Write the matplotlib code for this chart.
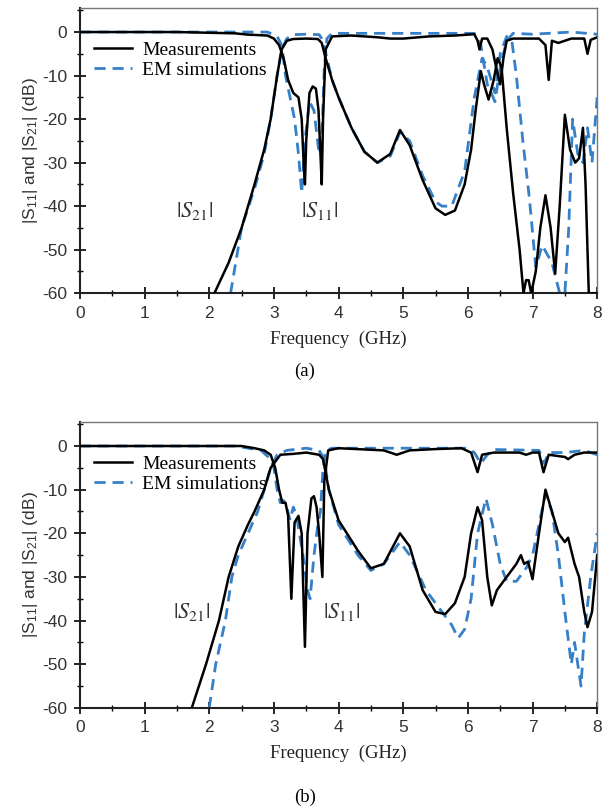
import matplotlib.pyplot as plt
import numpy as np
from matplotlib.ticker import MultipleLocator

plt.rcParams['mathtext.fontset'] = 'stix'
plt.rcParams['axes.unicode_minus'] = False

# ---- panel (a) ----
f_s11_meas_a = [0, 1.5, 2.4, 2.6, 2.9, 3.0, 3.08, 3.15, 3.22, 3.3, 3.38, 3.43, 3.46, 3.48, 3.5, 3.55, 3.6, 3.65,
                3.69, 3.72, 3.74, 3.76, 3.8, 3.9, 4.2, 4.6, 4.8, 5.0, 5.4, 5.8, 6.1, 6.15, 6.18, 6.22, 6.3, 6.38,
                6.45, 6.5, 6.55, 6.6, 6.7, 7.1, 7.2, 7.25, 7.3, 7.4, 7.5, 7.6, 7.8, 7.85, 7.9, 8.0]
s11_meas_a = [0, 0, -0.3, -0.6, -0.8, -1.5, -3, -6, -11, -14, -15, -20, -30, -35, -25, -14, -12.5, -13,
              -18, -28, -35, -20, -4, -1, -0.8, -1.2, -1.5, -1.5, -1, -0.8, -0.5, -2, -4, -1.5, -1.5, -4,
              -9, -12, -6, -2, -1.5, -1.5, -3, -11, -2, -2.5, -2, -1.5, -1.5, -5, -1.8, -1.2]

f_s21_meas_a = [2.08, 2.3, 2.5, 2.7, 2.85, 2.95, 3.05, 3.12, 3.2, 3.3, 3.5, 3.68, 3.74, 3.8, 3.9, 4.0, 4.2, 4.4,
                4.6, 4.8, 4.95, 5.1, 5.3, 5.5, 5.65, 5.8, 5.95, 6.05, 6.12, 6.2, 6.25, 6.32, 6.4, 6.46, 6.52,
                6.6, 6.7, 6.8, 6.86, 6.9, 6.94, 6.98, 7.05, 7.12, 7.2, 7.28, 7.35, 7.42, 7.5, 7.58, 7.66, 7.72,
                7.78, 7.82, 7.87, 8.0]
s21_meas_a = [-60, -53, -45, -35, -27, -20, -10, -4, -2, -1.6, -1.5, -1.6, -2.5, -6, -11, -15, -22, -27.5,
              -30, -28, -22.5, -26, -34, -40.5, -42, -41, -35, -27, -18, -9, -12, -15.5, -11, -6, -8,
              -22, -37, -50, -60, -57, -57, -60, -55, -45, -37.5, -45, -55.5, -40, -19, -27, -30, -29,
              -22, -35, -60, -60]

f_s11_sim_a = [0, 2.9, 3.05, 3.12, 3.18, 3.25, 3.32, 3.38, 3.43, 3.48, 3.55, 3.62, 3.7, 3.74, 3.78, 3.82,
               3.9, 5.0, 6.1, 6.2, 6.3, 6.42, 6.5, 6.6, 6.7, 7.0, 7.6, 8.0]
s11_sim_a = [0, 0, -1, -3, -10, -15, -20, -28, -37, -25, -16, -18, -28, -25, -8, -1.5,
             -0.3, -0.3, -0.3, -3, -12, -16, -8, -2, -0.3, -0.5, 0, -0.5]

f_s21_sim_a = [2.33, 2.5, 2.7, 2.85, 2.95, 3.05, 3.12, 3.2, 3.3, 3.5, 3.7, 3.76, 3.82, 3.9, 4.0, 4.2, 4.4, 4.6,
               4.8, 4.95, 5.1, 5.3, 5.5, 5.6, 5.75, 5.95, 6.1, 6.22, 6.3, 6.42, 6.5, 6.6, 6.68, 6.75, 6.85,
               6.95, 7.05, 7.15, 7.3, 7.42, 7.5, 7.56, 7.62, 7.7, 7.78, 7.85, 7.92, 8.0]
s21_sim_a = [-60, -45, -36, -28, -20, -10, -4, -1.5, -0.6, -0.5, -0.6, -2, -6, -11, -15, -22, -27.5, -30,
             -28.5, -23, -25, -33, -39, -40, -40, -32, -15, -6, -8, -14, -5, -1, -2, -10, -25,
             -38, -54, -49, -53, -60, -60, -45, -20, -28, -30, -22, -30, -15]

# ---- panel (b) ----
f_s11_meas_b = [0, 2.5, 2.7, 2.85, 2.95, 3.02, 3.08, 3.13, 3.18, 3.22, 3.27, 3.32, 3.38, 3.43, 3.48, 3.52,
                3.58, 3.62, 3.66, 3.7, 3.75, 3.78, 3.84, 4.0, 4.7, 4.9, 5.1, 5.5, 5.9, 6.05, 6.15, 6.22, 6.4,
                6.8, 6.9, 7.0, 7.1, 7.17, 7.25, 7.5, 7.55, 7.65, 7.8, 8.0]
s11_meas_b = [0, 0, -0.5, -1, -2, -5, -10, -13, -13, -16, -35, -17.5, -16, -20, -46, -20,
              -12, -11.5, -14, -20, -30, -8, -1, -0.5, -1, -2, -1, -0.7, -0.5, -1.5, -6, -2, -1.5,
              -1.5, -2, -1.5, -1.5, -6, -2, -2.5, -3, -2, -1.5, -1.5]

f_s21_meas_b = [1.73, 1.95, 2.15, 2.3, 2.45, 2.6, 2.7, 2.85, 2.95, 3.1, 3.3, 3.5, 3.7, 3.76, 3.85, 4.0, 4.3,
                4.5, 4.7, 4.95, 5.1, 5.3, 5.5, 5.65, 5.8, 5.95, 6.05, 6.15, 6.22, 6.3, 6.37, 6.45, 6.6,
                6.75, 6.82, 6.87, 6.93, 7.0, 7.1, 7.2, 7.3, 7.4, 7.5, 7.55, 7.65, 7.72, 7.8, 7.85, 7.92, 8.0]
s21_meas_b = [-60, -50, -40, -30, -23, -18, -15, -10, -5, -2, -1.8, -1.5, -2, -3, -10, -17, -24,
              -28, -27, -20, -23, -33, -38, -38.5, -36, -30, -20, -14, -17, -30, -36.5, -33, -30,
              -27, -25, -27, -26.5, -30.5, -20, -10, -15, -20, -22, -21, -27, -30, -38, -41.5, -38, -25]

f_s11_sim_b = [0, 2.4, 2.6, 2.8, 2.95, 3.0, 3.05, 3.1, 3.15, 3.2, 3.25, 3.3, 3.35, 3.45, 3.52, 3.56, 3.62,
               3.68, 3.72, 3.76, 3.8, 3.9, 6.0, 6.1, 6.2, 6.3, 6.4, 7.1, 7.18, 7.25, 7.5, 7.8, 8.0]
s11_sim_b = [0, 0, -0.5, -1, -3, -5, -10, -13, -12.5, -14, -17, -14, -16, -25, -33, -35, -25,
             -18, -15, -5, -1, -0.5, -0.5, -1.5, -4, -2, -0.8, -1, -4, -1.5, -1.5, -1, -2]

f_s21_sim_b = [2.0, 2.1, 2.25, 2.35, 2.45, 2.6, 2.75, 2.85, 2.95, 3.05, 3.2, 3.5, 3.7, 3.78, 3.85, 4.0, 4.3,
               4.5, 4.7, 4.95, 5.1, 5.35, 5.6, 5.75, 5.85, 5.95, 6.05, 6.15, 6.28, 6.38, 6.5, 6.6, 6.75,
               6.9, 7.0, 7.1, 7.2, 7.3, 7.4, 7.5, 7.6, 7.65, 7.75, 7.8, 7.9, 8.0]
s21_sim_b = [-60, -50, -40, -30, -25, -20, -15, -10, -5, -2, -1, -0.5, -1, -3, -10, -18, -25,
             -28.5, -27, -22, -25, -33, -38, -41, -44, -42, -35, -20, -12, -18, -27, -31, -31,
             -28, -25, -18, -11, -15, -25, -38, -50, -45, -55, -43, -30, -20]

yticks = [0, -10, -20, -30, -40, -50, -60]
xticks = [0, 1, 2, 3, 4, 5, 6, 7, 8]

blue = '#3580c8'
serif = 'Liberation Serif'
sans = 'Liberation Sans'

fig = plt.figure(figsize=(6.1, 8.1), dpi=100)
ax_a = fig.add_axes([0.131, 0.638, 0.848, 0.352])
ax_b = fig.add_axes([0.131, 0.126, 0.848, 0.353])

panels = [
    (ax_a, f_s11_meas_a, s11_meas_a, f_s21_meas_a, s21_meas_a, f_s11_sim_a, s11_sim_a, f_s21_sim_a, s21_sim_a,
     (1.78, -41), (3.7, -41)),
    (ax_b, f_s11_meas_b, s11_meas_b, f_s21_meas_b, s21_meas_b, f_s11_sim_b, s11_sim_b, f_s21_sim_b, s21_sim_b,
     (1.72, -38), (4.05, -38)),
]

for ax, fm1, m1, fm2, m2, fs1, s1, fs2, s2, pos21, pos11 in panels:
    ax.plot(fs1, s1, color=blue, lw=2, ls=(0, (4, 2.5)), label='EM simulations', zorder=2)
    ax.plot(fs2, s2, color=blue, lw=2, ls=(0, (4, 2.5)), zorder=2)
    ax.plot(fm1, m1, color='black', lw=1.8, label='Measurements', zorder=3)
    ax.plot(fm2, m2, color='black', lw=1.8, zorder=3)

    ax.set_xlim(0, 8)
    ax.set_ylim(-60, 5.5)
    ax.set_xticks(xticks)
    ax.set_yticks(yticks)
    ax.xaxis.set_minor_locator(MultipleLocator(0.5))
    ax.yaxis.set_minor_locator(MultipleLocator(5))
    ax.tick_params(which='major', direction='inout', length=8, width=1.2, labelsize=12.5,
                   labelcolor='#333333', pad=5)
    ax.tick_params(which='minor', direction='inout', length=5, width=1.0)
    for lab in ax.get_xticklabels() + ax.get_yticklabels():
        lab.set_fontfamily(sans)
    for s in ['left', 'bottom']:
        ax.spines[s].set_linewidth(1.5)
        ax.spines[s].set_color('#222222')
    for s in ['top', 'right']:
        ax.spines[s].set_linewidth(1.0)
        ax.spines[s].set_color('#777777')

    ax.set_xlabel('Frequency  (GHz)', fontfamily=serif, fontsize=13.5, labelpad=7, color='#222222')
    ax.set_ylabel(r'|S$\mathregular{_{11}}$| and |S$\mathregular{_{21}}$| (dB)', fontfamily=sans,
                  fontsize=12.5, labelpad=2, color='#333333')

    h, l = ax.get_legend_handles_labels()
    ax.legend(h[::-1], l[::-1], loc='upper left', bbox_to_anchor=(0.0, 0.93), frameon=False,
              prop={'family': serif, 'size': 14}, handlelength=2.0, labelspacing=0.1,
              borderpad=0.2, handletextpad=0.5)

    ax.text(pos21[0], pos21[1], r'$|S_{21}|$', fontsize=16, ha='center', va='center', color='#333333')
    ax.text(pos11[0], pos11[1], r'$|S_{11}|$', fontsize=16, ha='center', va='center', color='#333333')

fig.text(0.5, 1 - 371 / 810, '(a)', ha='center', va='center', fontfamily=serif, fontsize=13.5)
fig.text(0.5, 1 - 797 / 810, '(b)', ha='center', va='center', fontfamily=serif, fontsize=13.5)

plt.savefig('out.png', dpi=100)
